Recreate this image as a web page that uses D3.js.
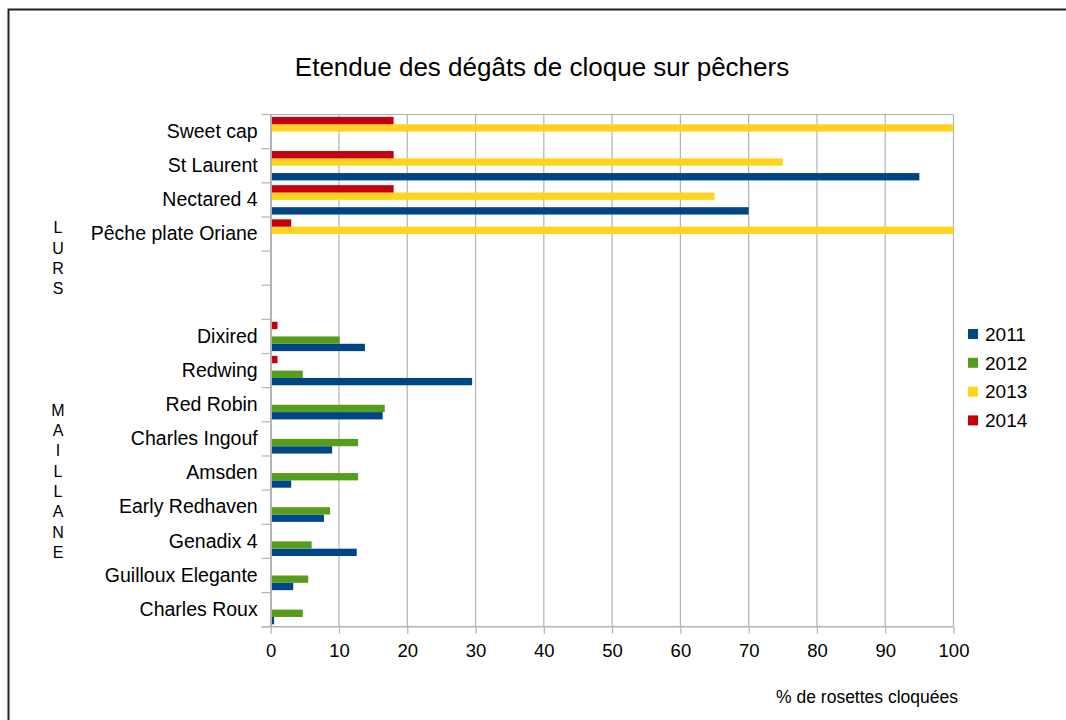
<!DOCTYPE html>
<html>
<head>
<meta charset="utf-8">
<script src="https://cdn.jsdelivr.net/npm/d3@7"></script>
<style>
  body { margin: 0; background: #fff; }
  svg { font-family: "Liberation Sans", Arial, sans-serif; }
</style>
</head>
<body>
<svg class="chart"></svg>
<script>
var width = 1066, height = 720;

// varieties, top to bottom (two empty slots between the two sites)
var varieties = ["Sweet cap", "St Laurent", "Nectared 4", "Pêche plate Oriane", "_gap1", "_gap2",
    "Dixired", "Redwing", "Red Robin", "Charles Ingouf", "Amsden", "Early Redhaven",
    "Genadix 4", "Guilloux Elegante", "Charles Roux"];
var years = ["2011", "2012", "2013", "2014"];
var colors = ["#004586", "#579d1c", "#ffd320", "#c5000b"];

// % de rosettes cloquées, one array per year (null = no bar)
var v2011 = [null, 95, 70, null, null, null, 13.8, 29.5, 16.4, 9, 3, 7.8, 12.6, 3.3, 0.5];
var v2012 = [null, null, null, null, null, null, 10.1, 4.7, 16.7, 12.8, 12.8, 8.7, 6, 5.5, 4.7];
var v2013 = [100, 75, 65, 100, null, null, null, null, null, null, null, null, null, null, null];
var v2014 = [18, 18, 18, 3, null, null, 1, 1, null, null, null, null, null, null, null];
var series = [v2011, v2012, v2013, v2014];

var xTicks = [0, 10, 20, 30, 40, 50, 60, 70, 80, 90, 100];
var groups = [{name: "LURS", center: 258}, {name: "MAILLANE", center: 481}];

var chart = d3.select(".chart")
    .attr("width", width)
    .attr("height", height);

// outer frame
chart.append("rect")
    .attr("x", 8.5).attr("y", 9.5)
    .attr("width", 1200).attr("height", 900)
    .attr("fill", "none")
    .attr("stroke", "#222")
    .attr("stroke-width", 2);

var plotLeft = 270.7, plotRight = 953.5, plotTop = 114.5, plotBottom = 626.7;

var x_scale = d3.scaleLinear()
    .domain([0, 100])
    .range([plotLeft, plotRight]);

var y_scale = d3.scaleBand()
    .domain(varieties)
    .range([plotTop, plotBottom]);

var bw = y_scale.bandwidth();
var y_inner = d3.scaleBand()
    .domain(years)
    .range([bw - 2.4, 2.4]);

// vertical grid lines
chart.append("g")
    .selectAll("line")
    .data(xTicks)
    .enter().append("line")
    .attr("x1", function(d) { return x_scale(d); })
    .attr("x2", function(d) { return x_scale(d); })
    .attr("y1", plotTop)
    .attr("y2", plotBottom)
    .attr("stroke", "#b3b3b3")
    .attr("stroke-width", 1.2);

// top border of plot
chart.append("line")
    .attr("x1", plotLeft).attr("x2", plotRight)
    .attr("y1", plotTop).attr("y2", plotTop)
    .attr("stroke", "#b3b3b3")
    .attr("stroke-width", 1.2);

// bars
var bar = chart.selectAll("g.year")
    .data(series)
    .enter().append("g")
    .attr("class", "year")
    .attr("fill", function(d, i) { return colors[i]; });

bar.each(function(vals, i) {
    var yr = years[i];
    d3.select(this).selectAll("rect")
        .data(vals.map(function(v, j) { return {v: v, c: varieties[j]}; })
            .filter(function(d) { return d.v != null; }))
        .enter().append("rect")
        .attr("x", x_scale(0))
        .attr("y", function(d) { return y_scale(d.c) + y_inner(yr); })
        .attr("width", function(d) { return x_scale(d.v) - x_scale(0); })
        .attr("height", y_inner.bandwidth());
});

// y axis
var y_axis = d3.axisLeft(y_scale)
    .tickSize(0)
    .tickPadding(13)
    .tickFormat(function(d) { return d.charAt(0) == "_" ? "" : d; });

var gy = chart.append("g")
    .attr("transform", "translate(" + plotLeft + ",0)")
    .call(y_axis);
gy.select(".domain").attr("stroke", "#b3b3b3").attr("stroke-width", 1.6);
gy.selectAll("text")
    .attr("font-size", 19.5)
    .attr("fill", "#000")
    .attr("font-family", "Liberation Sans, Arial, sans-serif");

// band boundary ticks
var bounds = varieties.map(function(c) { return y_scale(c); }).concat([plotBottom]);
chart.append("g")
    .selectAll("line")
    .data(bounds)
    .enter().append("line")
    .attr("x1", plotLeft - 9).attr("x2", plotLeft)
    .attr("y1", function(d) { return d; })
    .attr("y2", function(d) { return d; })
    .attr("stroke", "#b3b3b3")
    .attr("stroke-width", 1.2);

// x axis
var x_axis = d3.axisBottom(x_scale)
    .tickValues(xTicks)
    .tickSize(7)
    .tickPadding(10);

var gx = chart.append("g")
    .attr("transform", "translate(0," + plotBottom + ")")
    .call(x_axis);
gx.select(".domain").attr("stroke", "#b3b3b3").attr("stroke-width", 1.6).attr("d", "M" + (plotLeft - 9) + ",0H" + plotRight);
gx.selectAll(".tick line").attr("stroke", "#b3b3b3").attr("stroke-width", 1.2);
gx.selectAll("text")
    .attr("font-size", 18.5)
    .attr("fill", "#000")
    .attr("font-family", "Liberation Sans, Arial, sans-serif");

// site labels, stacked letters
groups.forEach(function(g) {
    var letters = g.name.split("");
    var step = 20.3;
    var y0 = g.center - step * (letters.length - 1) / 2;
    chart.append("g").selectAll("text")
        .data(letters)
        .enter().append("text")
        .attr("x", 58)
        .attr("y", function(d, i) { return y0 + i * step; })
        .attr("dy", "0.36em")
        .attr("text-anchor", "middle")
        .attr("font-size", 16)
        .text(function(d) { return d; });
});

// title
chart.append("text")
    .attr("x", 542)
    .attr("y", 67)
    .attr("dy", "0.36em")
    .attr("text-anchor", "middle")
    .attr("font-size", 26)
    .text("Etendue des dégâts de cloque sur pêchers");

// axis title
chart.append("text")
    .attr("x", 958)
    .attr("y", 697)
    .attr("dy", "0.36em")
    .attr("text-anchor", "end")
    .attr("font-size", 17.5)
    .text("% de rosettes cloquées");

// legend
var legend = chart.append("g")
    .selectAll("g")
    .data(years)
    .enter().append("g")
    .attr("transform", function(d, i) { return "translate(968," + (334 + i * 28.8) + ")"; });

legend.append("rect")
    .attr("x", 0).attr("y", -5)
    .attr("width", 10).attr("height", 10)
    .attr("fill", function(d, i) { return colors[i]; });

legend.append("text")
    .attr("x", 17)
    .attr("dy", "0.36em")
    .attr("font-size", 19)
    .text(function(d) { return d; });
</script>
</body>
</html>
